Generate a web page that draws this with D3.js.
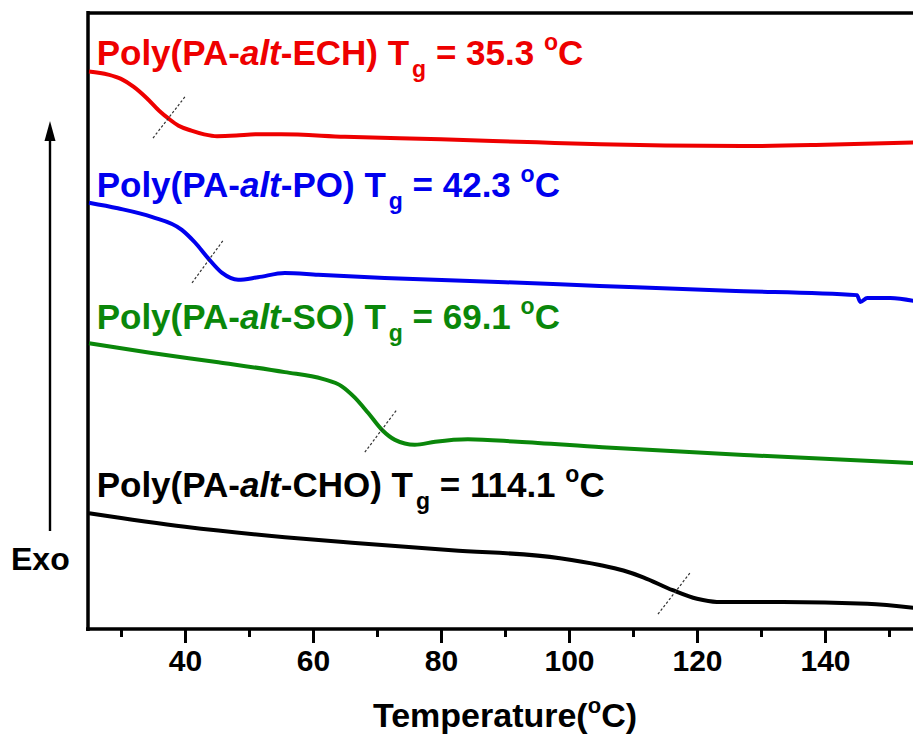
<!DOCTYPE html>
<html>
<head>
<meta charset="utf-8">
<script src="https://cdn.jsdelivr.net/npm/d3@7"></script>
<style>
  body { margin: 0; background: #fff; }
  text { font-family: Arial, 'Liberation Sans', sans-serif; font-weight: bold; }
</style>
</head>
<body>
<div id="chart"></div>
<script>
const svg_width = 913,
      svg_height = 735,
      font_main = 35,
      font_small = 23

// temperature (°C), heat flow (a.u., shifted per sample, exo up)
const ech_data = [[25, 90.5], [28, 90.0], [30, 89.3], [32, 88.0], [34, 86.2], [36, 84.1], [37.5, 82.8],
  [39, 81.7], [41, 80.9], [43, 80.3], [45, 80.0], [48, 80.1], [51, 80.3], [55, 80.3], [65, 79.9],
  [80, 79.5], [95, 79.0], [105, 78.7], [115, 78.5], [127, 78.4], [140, 78.6], [155, 79.0]]
const po_data = [[25, 69.2], [29.5, 68.3], [34.8, 66.9], [39.5, 64.8], [41.6, 62.7], [43.6, 60.2],
  [45.8, 57.8], [48.3, 56.7], [51.4, 57.1], [55.6, 57.8], [60.8, 57.5], [71.2, 57.0], [90, 56.3],
  [104.8, 55.7], [125, 54.9], [145.0, 54.2], [145.5, 53.1], [146.6, 53.75], [150.2, 53.75], [155, 53.0]]
const so_data = [[25, 46.4], [34.8, 44.8], [45.2, 43.3], [55.6, 41.7], [61.5, 40.6], [64.5, 39.4],
  [66.5, 37.6], [68.6, 35.1], [70.8, 32.3], [72.8, 30.7], [75.9, 29.9], [79.1, 30.4], [84.2, 30.8],
  [92.0, 30.4], [105.2, 29.5], [128.3, 28.2], [155, 26.9]]
const cho_data = [[25, 18.8], [40, 16.6], [55.6, 14.9], [66.1, 14.0], [81.7, 12.8], [98.6, 11.5],
  [104.8, 10.4], [108.5, 9.5], [111.6, 8.4], [116.2, 6.3], [120.0, 4.9], [123.1, 4.4], [133.4, 4.4],
  [146.6, 4.1], [155, 3.3]]

const series_data = [ech_data, po_data, so_data, cho_data]
const series_colors = ['#ee0000', '#0000ee', '#0a870a', '#000000']
const series_names = ['ECH', 'PO', 'SO', 'CHO']
const tg_values = ['35.3', '42.3', '69.1', '114.1']
const label_anchor = [[26.2, 91.5], [26.2, 70.2], [26.2, 48.7], [26.2, 21.5]]

// dashed tangent marks at Tg: [T1, v1, T2, v2]
const tangents = [[35.0, 79.7, 40.0, 86.4], [41.1, 56.2, 45.9, 63.0],
  [68.1, 28.7, 73.1, 35.6], [113.9, 2.4, 118.9, 9.1]]

const major_ticks = [40, 60, 80, 100, 120, 140]
const minor_ticks = [30, 50, 70, 90, 110, 130, 150]

const svg = d3.select('#chart').append('svg')
  .attr('width', svg_width)
  .attr('height', svg_height)

const x = d3.scaleLinear().domain([25, 155]).range([89, 921])
const y = d3.scaleLinear().domain([0, 100]).range([629, 13])

// frame
svg.append('line').attr('x1', 88).attr('x2', 930).attr('y1', 13).attr('y2', 13)
  .style('stroke', '#000').style('stroke-width', 3.5)
svg.append('line').attr('x1', 88).attr('x2', 88).attr('y1', 11).attr('y2', 631)
  .style('stroke', '#000').style('stroke-width', 3.5)

const x_axis = svg.append('g').attr('transform', 'translate(0,629)')
  .call(d3.axisBottom(x).tickValues(major_ticks).tickSize(14).tickPadding(7).tickSizeOuter(0))
x_axis.select('.domain').style('stroke-width', 3.5).attr('d', 'M86,0H930')
x_axis.selectAll('.tick line').style('stroke-width', 3)
x_axis.selectAll('.tick text')
  .style('font-size', '30px')
  .style('font-family', "Arial, 'Liberation Sans', sans-serif")
  .style('font-weight', 'bold')

const x_minor = svg.append('g').attr('transform', 'translate(0,629)')
  .call(d3.axisBottom(x).tickValues(minor_ticks).tickSize(8).tickFormat(''))
x_minor.select('.domain').remove()
x_minor.selectAll('.tick line').style('stroke-width', 3)

// axis title
const x_title = svg.append('text')
  .attr('x', 505).attr('y', 727)
  .attr('text-anchor', 'middle')
  .style('font-size', '34px')
x_title.append('tspan').text('Temperature(')
x_title.append('tspan').attr('dy', -14).style('font-size', '22px').text('o')
x_title.append('tspan').attr('dy', 14).text('C)')

// Exo arrow
svg.append('line')
  .attr('x1', 50).attr('y1', 531).attr('x2', 50).attr('y2', 136)
  .style('stroke', '#000').style('stroke-width', 2.4)
svg.append('path')
  .attr('d', 'M50,121L55.5,141L44.5,141Z')
  .style('fill', '#000')
svg.append('text').attr('x', 11).attr('y', 570).style('font-size', '32px').text('Exo')

// curves
const line = d3.line()
  .x(d => x(d[0]))
  .y(d => y(d[1]))
  .curve(d3.curveMonotoneX)

series_data.forEach((data, i) => {
  svg.append('path')
    .datum(data)
    .attr('d', line)
    .style('fill', 'none')
    .style('stroke', series_colors[i])
    .style('stroke-width', 4)
    .style('stroke-linejoin', 'round')
})

tangents.forEach(t => {
  svg.append('line')
    .attr('x1', x(t[0])).attr('y1', y(t[1]))
    .attr('x2', x(t[2])).attr('y2', y(t[3]))
    .style('stroke', '#333')
    .style('stroke-width', 1.2)
    .style('stroke-dasharray', '2.5,2')
})

// labels
series_names.forEach((name, i) => {
  const label = svg.append('text')
    .attr('x', x(label_anchor[i][0]))
    .attr('y', y(label_anchor[i][1]))
    .style('fill', series_colors[i])
    .style('font-size', font_main + 'px')
  label.append('tspan').text('Poly(PA-')
  label.append('tspan').style('font-style', 'italic').text('alt')
  label.append('tspan').text('-' + name + ') T')
  label.append('tspan').attr('dx', 3).attr('dy', 12).style('font-size', font_small + 'px').text('g')
  label.append('tspan').attr('dy', -12).text(' = ' + tg_values[i] + ' ')
  label.append('tspan').attr('dy', -15).style('font-size', font_small + 'px').text('o')
  label.append('tspan').attr('dy', 15).text('C')
})
</script>
</body>
</html>
